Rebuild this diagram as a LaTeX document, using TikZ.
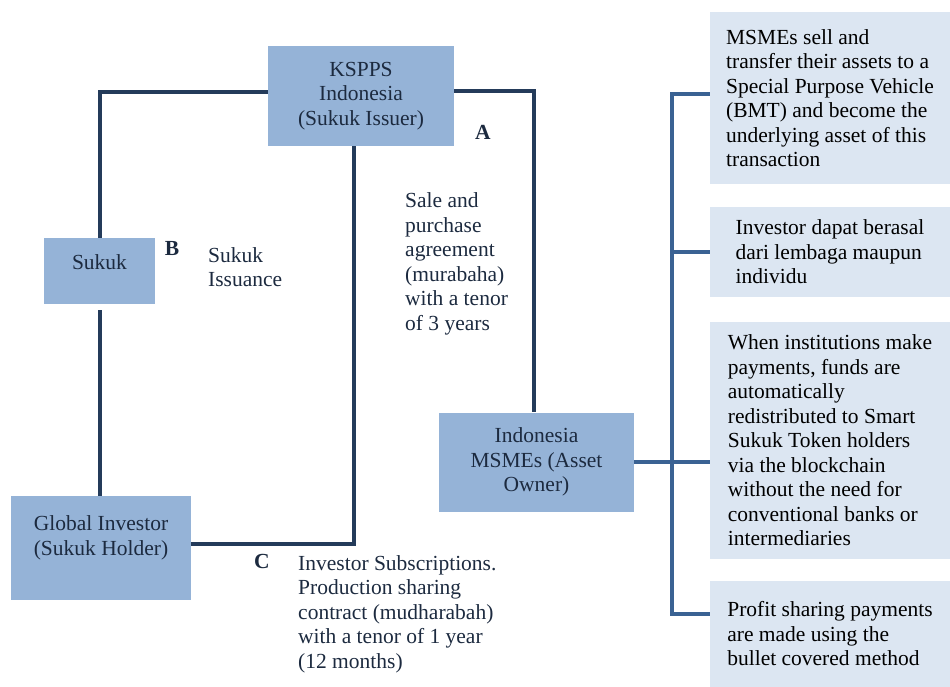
\documentclass[tikz,border=0pt]{standalone}
\usepackage{fontspec}
\setmainfont{Liberation Serif}
\usepackage{xcolor}
\usetikzlibrary{calc}

\definecolor{boxblue}{HTML}{95B3D7}
\definecolor{paleblue}{HTML}{DCE6F2}
\definecolor{linenavy}{HTML}{243B5A}
\definecolor{busblue}{HTML}{3A6293}
\definecolor{textnavy}{HTML}{1C2A3F}

\begin{document}
\begin{tikzpicture}[x=1pt,y=-1pt]
            \tikzset{party/.style = {fill=boxblue, text=textnavy, align=center, inner sep=0pt, font=\fontsize{21.5}{24.5}\selectfont}}
            \tikzset{note/.style = {fill=paleblue, text=black, align=left, inner sep=0pt, minimum width=240pt, font=\fontsize{21.5}{24.5}\selectfont}}
            \tikzset{caption/.style = {text=textnavy, align=left, inner sep=0pt, anchor=west, font=\fontsize{21.5}{24.5}\selectfont}}
            \tikzset{tag/.style = {text=textnavy, inner sep=0pt, font=\fontsize{21.5}{24.5}\selectfont\bfseries}}
            \tikzset{link/.style = {draw=linenavy, line width=4pt}}
            \tikzset{branch/.style = {draw=busblue, line width=3.5pt}}

            \useasboundingbox (0,0) rectangle (950,687);

            % parties
            \node[party, minimum width=186pt, minimum height=100pt] (kspps) at (361,96) {KSPPS\\Indonesia\\(Sukuk Issuer)};
            \node[party, minimum width=111pt, minimum height=66pt] (sukuk) at (99.5,271) {\raisebox{2pt}[0pt][0pt]{Sukuk}};
            \node[party, minimum width=180pt, minimum height=104pt] (global) at (101,548) {Global Investor\\(Sukuk Holder)\\\mbox{}};
            \node[party, minimum width=195pt, minimum height=99pt] (msmes) at (536.5,462) {Indonesia\\MSMEs (Asset\\Owner)};

            % notes
            \node[note, minimum height=172pt] (r1) at (830,98) {MSMEs sell and\\transfer their assets to a\\Special Purpose Vehicle\\(BMT) and become the\\underlying asset of this\\transaction};
            \node[note, minimum height=90pt] (r2) at (830,252) {Investor dapat berasal\\dari lembaga maupun\\individu};
            \node[note, minimum height=237pt] (r3) at (830,440.5) {When institutions make\\payments, funds are\\automatically\\redistributed to Smart\\Sukuk Token holders\\via the blockchain\\without the need for\\conventional banks or\\intermediaries};
            \node[note, minimum height=106pt] (r4) at (830,634) {Profit sharing payments\\are made using the\\bullet covered method};

            % labels
            \node[tag] (tagA) at (483,132) {A};
            \node[tag] (tagB) at (172,248) {B};
            \node[tag] (tagC) at (262,561) {C};
            \node[caption] (issue) at (208,267) {Sukuk\\Issuance};
            \node[caption] (sale) at (405,264) {Sale and\\purchase\\agreement\\(murabaha)\\with a tenor\\of 3 years};
            \node[caption] (subs) at (298,614) {Investor Subscriptions.\\Production sharing\\contract (mudharabah)\\with a tenor of 1 year\\(12 months)};

            % edges
            \draw[link] ([yshift=4pt]kspps.west) -| (sukuk.north);
            \draw[link, shorten <=6pt] (sukuk.south) -- (sukuk.south |- global.north);
            \draw[link] ([yshift=4pt]global.east) -| ([xshift=-7pt]kspps.south);
            \draw[link] ([yshift=5pt]kspps.east) -| ([xshift=-3pt]msmes.north);

            \coordinate (bustop) at (672,94);
            \coordinate (busend) at (672,614);
            \draw[branch] (msmes.east) -- (msmes.east -| r3.west);
            \draw[branch] (r1.west |- bustop) -- (bustop) -- (busend) -- (r4.west |- busend);
            \draw[branch] (r2.west) -- (r2.west -| bustop);

          \end{tikzpicture}
\end{document}
